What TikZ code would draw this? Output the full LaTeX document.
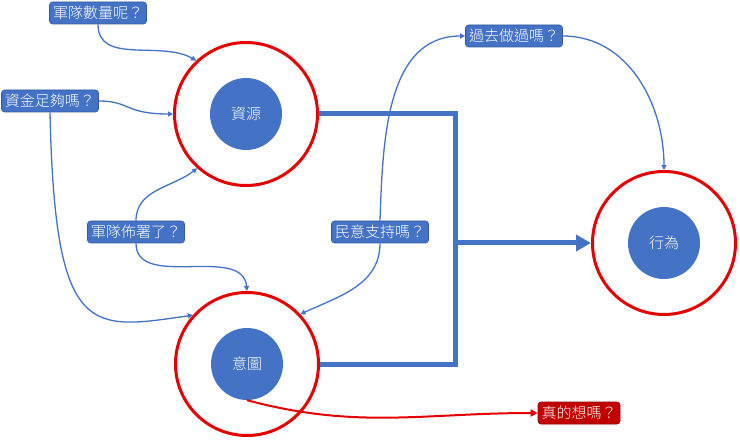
\documentclass[tikz,border=0pt]{standalone}
\usepackage{fontspec}
\setmainfont{Noto Sans CJK TC Light}
\usetikzlibrary{calc}
\usetikzlibrary{arrows.meta}
\usetikzlibrary{positioning}
\definecolor{officeblue}{RGB}{68, 114, 196}
\definecolor{edgeblue}{RGB}{52, 90, 160}
\definecolor{ringred}{RGB}{228, 0, 0}
\definecolor{boxred}{RGB}{192, 0, 0}

\tikzset{
  core/.style={circle, fill=officeblue, minimum size=72pt, inner sep=0pt,
               text=white, font=\fontsize{15}{18}\selectfont},
  ring/.style={circle, draw=ringred, line width=3pt, minimum size=143pt, inner sep=0pt},
  question/.style={rounded corners=3pt, fill=officeblue, draw=edgeblue, line width=0.6pt,
                   text=white, font=\fontsize{15}{18}\selectfont,
                   minimum height=22pt, inner xsep=3.5pt, inner ysep=0pt},
  doubt/.style={question, fill=boxred, draw=boxred!80!black},
  link/.style={officeblue, line width=1.3pt, -{Triangle[length=5pt,width=5pt]}},
  redlink/.style={ringred, line width=2pt, -{Triangle[length=7pt,width=7pt]}},
  trunk/.style={officeblue, line width=5pt, line join=miter},
}

\begin{document}
\begin{tikzpicture}[x=1pt, y=1pt]
            \useasboundingbox (0, 0) rectangle (740, 440);
            % Core circles with their rings
            \node[ring] (resring)  at (246, 326) {};
            \node[core] (res)      at (246, 326) {資源};
            \node[ring] (yiring)   at (247,  76) {};
            \node[core] (yi)       at (247,  76) {意圖};
            \node[ring] (xingring) at (664, 197) {};
            \node[core] (xing)     at (664, 197) {行為};
            % Questions
            \node[question] (qtroops)  at ( 98, 427) {軍隊數量呢？};
            \node[question] (qfunds)   at ( 50, 339) {資金足夠嗎？};
            \node[question] (qdeploy)  at (136, 208) {軍隊佈署了？};
            \node[question] (qpublic)  at (380, 208) {民意支持嗎？};
            \node[question] (qpast)    at (514, 404) {過去做過嗎？};
            \node[doubt]    (qwant)    at (579,  27) {真的想嗎？};
            % Thick trunk into behaviour
            \coordinate (junction) at (455, 197);
            \draw[trunk] (resring.east) -| (junction) |- (yiring.east);
            \draw[trunk, -{Triangle[length=15pt,width=16pt]}] (junction) -- (xingring.west);
            % Question links
            \draw[link] (qtroops.south) to[out=-90, in=150] (resring.133);
            \draw[link] (qfunds.east) .. controls (130, 339) and (125, 326) .. (resring.180);
            \draw[link] (qfunds.south) .. controls (55, 100) and (90, 110) .. (yiring.138);
            \draw[link] (qdeploy.north) to[out=90, in=218] (resring.228);
            \draw[link] (qdeploy.south) to[out=-90, in=95] (yiring.north);
            \draw[link] (qpublic.south) to[out=-90, in=25] (yiring.43);
            \draw[link] (qpublic.north) to[out=88, in=180] (qpast.west);
            \draw[link] (qpast.east) to[out=0, in=90] (xingring.north);
            % Doubt on intention
            \draw[redlink] (yi.south) to[out=-15, in=180] (qwant.west);
        \end{tikzpicture}
\end{document}
